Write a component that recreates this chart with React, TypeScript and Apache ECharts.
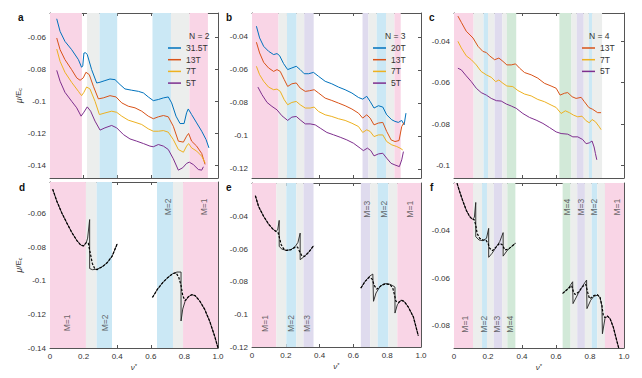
import React, { useEffect, useRef } from "react";
import * as echarts from "echarts";

type Pt = [number, number];

const X_TICKS = [0, 0.2, 0.4, 0.6, 0.8, 1.0];

// ---------- panel a (N = 2) ----------
const aNames = ["31.5T", "13T", "7T", "5T"];
const a31: Pt[] = [[0.04,-0.0486],[0.06,-0.0565],[0.089,-0.0627],[0.129,-0.0679],[0.169,-0.0741],[0.188,-0.0789],[0.195,-0.078],[0.202,-0.070],[0.212,-0.0698],[0.222,-0.071],[0.248,-0.0804],[0.278,-0.0887],[0.298,-0.0882],[0.327,-0.0872],[0.357,-0.0862],[0.387,-0.0866],[0.417,-0.0897],[0.446,-0.0924],[0.486,-0.0932],[0.526,-0.0939],[0.556,-0.0949],[0.585,-0.0974],[0.615,-0.0997],[0.645,-0.099],[0.675,-0.098],[0.704,-0.0974],[0.724,-0.1011],[0.75,-0.1094],[0.774,-0.114],[0.798,-0.114],[0.813,-0.1073],[0.823,-0.1049],[0.843,-0.1084],[0.873,-0.1136],[0.903,-0.1188],[0.929,-0.124],[0.946,-0.1292]];
const a13: Pt[] = [[0.04,-0.0606],[0.06,-0.0679],[0.089,-0.0741],[0.129,-0.0804],[0.159,-0.0855],[0.179,-0.087],[0.198,-0.0855],[0.214,-0.082],[0.234,-0.0835],[0.258,-0.0907],[0.288,-0.0986],[0.317,-0.098],[0.357,-0.0966],[0.393,-0.0974],[0.427,-0.1011],[0.466,-0.1032],[0.506,-0.1042],[0.546,-0.1063],[0.585,-0.1094],[0.615,-0.111],[0.645,-0.1098],[0.675,-0.109],[0.704,-0.1098],[0.734,-0.1157],[0.764,-0.125],[0.794,-0.1256],[0.813,-0.1219],[0.825,-0.1202],[0.843,-0.125],[0.873,-0.1281],[0.903,-0.1327],[0.923,-0.1395]];
const a7: Pt[] = [[0.04,-0.0675],[0.06,-0.0752],[0.089,-0.082],[0.129,-0.0883],[0.169,-0.0939],[0.188,-0.0966],[0.202,-0.0945],[0.218,-0.0912],[0.238,-0.0924],[0.268,-0.1001],[0.294,-0.1084],[0.327,-0.1074],[0.367,-0.1063],[0.397,-0.107],[0.427,-0.1094],[0.466,-0.1119],[0.506,-0.1132],[0.546,-0.1146],[0.585,-0.1173],[0.615,-0.1188],[0.645,-0.1188],[0.675,-0.1184],[0.704,-0.1194],[0.734,-0.124],[0.764,-0.1302],[0.794,-0.1319],[0.813,-0.1281],[0.825,-0.1265],[0.843,-0.1292],[0.873,-0.1312],[0.903,-0.1344],[0.923,-0.1385]];
const a5: Pt[] = [[0.04,-0.0808],[0.06,-0.0876],[0.089,-0.0945],[0.129,-0.1001],[0.159,-0.1042],[0.185,-0.1094],[0.202,-0.1069],[0.222,-0.1036],[0.242,-0.1063],[0.268,-0.1125],[0.298,-0.1181],[0.327,-0.1167],[0.367,-0.1152],[0.397,-0.1167],[0.437,-0.1209],[0.476,-0.1236],[0.516,-0.125],[0.556,-0.1265],[0.595,-0.1281],[0.615,-0.1285],[0.645,-0.1271],[0.675,-0.1281],[0.704,-0.1302],[0.734,-0.136],[0.764,-0.1431],[0.79,-0.1416],[0.813,-0.1389],[0.829,-0.1381],[0.853,-0.1396],[0.883,-0.1427],[0.903,-0.1431],[0.913,-0.141]];

// ---------- panel b (N = 3) ----------
const bNames = ["20T", "13T", "7T", "5T"];
const b20: Pt[] = [[0.026,-0.0335],[0.045,-0.0406],[0.069,-0.0457],[0.098,-0.0487],[0.128,-0.0507],[0.148,-0.0501],[0.163,-0.0513],[0.187,-0.0562],[0.211,-0.0598],[0.236,-0.0588],[0.262,-0.0578],[0.285,-0.0598],[0.309,-0.0623],[0.335,-0.0623],[0.364,-0.0615],[0.394,-0.0639],[0.433,-0.0669],[0.472,-0.0684],[0.512,-0.0704],[0.551,-0.072],[0.591,-0.074],[0.63,-0.0767],[0.655,-0.0777],[0.679,-0.076],[0.699,-0.0791],[0.722,-0.0831],[0.748,-0.0817],[0.774,-0.0825],[0.797,-0.0872],[0.827,-0.0902],[0.846,-0.0912],[0.866,-0.0918],[0.886,-0.0906],[0.9,-0.0933],[0.911,-0.0862]];
const b13: Pt[] = [[0.026,-0.0432],[0.045,-0.0497],[0.069,-0.0554],[0.098,-0.0588],[0.128,-0.0609],[0.148,-0.0598],[0.167,-0.0609],[0.191,-0.0659],[0.211,-0.07],[0.236,-0.0684],[0.262,-0.0679],[0.285,-0.071],[0.315,-0.073],[0.341,-0.0726],[0.368,-0.072],[0.394,-0.074],[0.433,-0.0771],[0.472,-0.0785],[0.512,-0.0801],[0.551,-0.0817],[0.591,-0.0837],[0.63,-0.0862],[0.655,-0.0892],[0.679,-0.0872],[0.699,-0.0892],[0.722,-0.0933],[0.748,-0.0922],[0.774,-0.0918],[0.797,-0.0973],[0.823,-0.1024],[0.846,-0.1034],[0.87,-0.1028],[0.886,-0.0943],[0.9,-0.0918]];
const b7: Pt[] = [[0.026,-0.0578],[0.045,-0.0629],[0.069,-0.0669],[0.098,-0.0704],[0.128,-0.072],[0.148,-0.0716],[0.167,-0.073],[0.191,-0.0781],[0.211,-0.0811],[0.236,-0.0797],[0.262,-0.0791],[0.285,-0.0811],[0.315,-0.0831],[0.344,-0.0831],[0.368,-0.0825],[0.394,-0.0852],[0.433,-0.0872],[0.472,-0.0882],[0.512,-0.0896],[0.551,-0.0906],[0.591,-0.0923],[0.63,-0.0943],[0.655,-0.0979],[0.679,-0.0963],[0.699,-0.0973],[0.722,-0.1004],[0.748,-0.0994],[0.774,-0.0994],[0.797,-0.1034],[0.827,-0.1054],[0.856,-0.1064],[0.876,-0.1074],[0.892,-0.1085]];
const b5: Pt[] = [[0.035,-0.0704],[0.059,-0.075],[0.089,-0.0797],[0.118,-0.0821],[0.148,-0.0842],[0.177,-0.0878],[0.211,-0.0906],[0.236,-0.0886],[0.262,-0.0882],[0.289,-0.0906],[0.315,-0.0927],[0.344,-0.0927],[0.374,-0.0933],[0.404,-0.0953],[0.443,-0.0979],[0.482,-0.0993],[0.522,-0.1008],[0.561,-0.1024],[0.6,-0.1044],[0.64,-0.1074],[0.659,-0.1089],[0.683,-0.1074],[0.703,-0.1089],[0.722,-0.1121],[0.748,-0.1109],[0.774,-0.1105],[0.797,-0.1135],[0.823,-0.1166],[0.846,-0.1176],[0.872,-0.1186],[0.886,-0.1145],[0.896,-0.1095]];

// ---------- panel c (N = 4) ----------
const cNames = ["13T", "7T", "5T"];
const c13: Pt[] = [[0.023,-0.0278],[0.043,-0.0308],[0.072,-0.0351],[0.112,-0.0384],[0.141,-0.0424],[0.17,-0.0449],[0.19,-0.0454],[0.209,-0.047],[0.239,-0.0489],[0.264,-0.0481],[0.288,-0.0497],[0.311,-0.0514],[0.337,-0.0514],[0.362,-0.0509],[0.386,-0.053],[0.415,-0.0551],[0.454,-0.0562],[0.493,-0.0578],[0.532,-0.0603],[0.571,-0.0616],[0.601,-0.0627],[0.624,-0.066],[0.65,-0.0651],[0.669,-0.0648],[0.695,-0.0668],[0.718,-0.0676],[0.748,-0.0671],[0.767,-0.0692],[0.793,-0.072],[0.816,-0.0729],[0.845,-0.0745],[0.865,-0.0745]];
const c7: Pt[] = [[0.023,-0.04],[0.043,-0.0432],[0.072,-0.047],[0.102,-0.0489],[0.131,-0.0514],[0.16,-0.0546],[0.19,-0.0562],[0.219,-0.0574],[0.245,-0.0595],[0.264,-0.0587],[0.288,-0.0603],[0.311,-0.0616],[0.346,-0.0619],[0.376,-0.0638],[0.415,-0.0655],[0.454,-0.0664],[0.493,-0.0681],[0.532,-0.0692],[0.571,-0.0708],[0.601,-0.072],[0.63,-0.0749],[0.655,-0.0736],[0.679,-0.0745],[0.703,-0.0757],[0.728,-0.0765],[0.753,-0.0762],[0.777,-0.0784],[0.796,-0.0794],[0.812,-0.0778],[0.832,-0.0789],[0.855,-0.0814],[0.865,-0.0827]];
const c5: Pt[] = [[0.023,-0.053],[0.043,-0.0538],[0.072,-0.0567],[0.102,-0.0595],[0.131,-0.0627],[0.16,-0.0648],[0.19,-0.066],[0.219,-0.0676],[0.249,-0.0687],[0.278,-0.0689],[0.307,-0.0703],[0.337,-0.0713],[0.366,-0.0724],[0.405,-0.0749],[0.444,-0.0768],[0.483,-0.0781],[0.523,-0.0797],[0.562,-0.0817],[0.601,-0.0838],[0.63,-0.0846],[0.669,-0.0849],[0.699,-0.0862],[0.728,-0.0862],[0.757,-0.0875],[0.777,-0.0895],[0.796,-0.0891],[0.812,-0.0882],[0.824,-0.0911],[0.832,-0.0943],[0.84,-0.0973]];

// ---------- panel d (theory, N = 2) ----------
const dSolidL: Pt[] = [[0.016,-0.0453],[0.04,-0.0523],[0.07,-0.0594],[0.10,-0.0654],[0.13,-0.0711],[0.16,-0.0759],[0.184,-0.0787],[0.20,-0.0791],[0.216,-0.0771],[0.224,-0.0745],[0.236,-0.0634],[0.236,-0.0926],[0.252,-0.0933],[0.28,-0.093],[0.31,-0.0916],[0.34,-0.0892],[0.37,-0.0852],[0.40,-0.0779]];
const dDashL: Pt[] = [[0.016,-0.0453],[0.04,-0.0523],[0.07,-0.0594],[0.10,-0.0654],[0.13,-0.0711],[0.16,-0.0759],[0.184,-0.0787],[0.20,-0.0791],[0.216,-0.0771],[0.228,-0.0775],[0.24,-0.0836],[0.252,-0.0896],[0.266,-0.0926],[0.28,-0.0933],[0.31,-0.0916],[0.34,-0.0892],[0.37,-0.0852],[0.40,-0.0779]];
const dSolidR: Pt[] = [[0.61,-0.1098],[0.64,-0.1049],[0.67,-0.1011],[0.70,-0.0981],[0.73,-0.0957],[0.756,-0.0947],[0.78,-0.0947],[0.78,-0.1239],[0.79,-0.1168],[0.804,-0.1122],[0.824,-0.1094],[0.844,-0.1082],[0.864,-0.1088],[0.89,-0.1118],[0.92,-0.1168],[0.95,-0.1239],[0.98,-0.1329],[1.0,-0.14]];
const dDashR: Pt[] = [[0.61,-0.1098],[0.64,-0.1049],[0.67,-0.1011],[0.70,-0.0981],[0.73,-0.0957],[0.75,-0.0951],[0.766,-0.0977],[0.78,-0.1027],[0.79,-0.1088],[0.804,-0.1118],[0.824,-0.1094],[0.844,-0.1082],[0.864,-0.1088],[0.89,-0.1118],[0.92,-0.1168],[0.95,-0.1239],[0.98,-0.1329],[1.0,-0.14]];

// ---------- panel e (theory, N = 3) ----------
const eSolidL: Pt[] = [[0.02,-0.0273],[0.039,-0.0339],[0.069,-0.04],[0.098,-0.0447],[0.124,-0.0478],[0.142,-0.0492],[0.152,-0.0482],[0.161,-0.0424],[0.161,-0.0584],[0.177,-0.06],[0.203,-0.0608],[0.23,-0.0604],[0.256,-0.0584],[0.272,-0.0559],[0.285,-0.0502],[0.285,-0.0665],[0.305,-0.0649],[0.335,-0.062],[0.364,-0.058]];
const eDashL: Pt[] = [[0.02,-0.0273],[0.039,-0.0339],[0.069,-0.04],[0.098,-0.0447],[0.124,-0.0478],[0.142,-0.0492],[0.154,-0.0498],[0.163,-0.0533],[0.173,-0.0573],[0.187,-0.0598],[0.203,-0.0608],[0.23,-0.0604],[0.256,-0.0588],[0.27,-0.0588],[0.281,-0.0614],[0.295,-0.0641],[0.311,-0.0645],[0.335,-0.062],[0.364,-0.058]];
const eSolidR: Pt[] = [[0.644,-0.0839],[0.669,-0.0798],[0.695,-0.0767],[0.715,-0.0753],[0.719,-0.0753],[0.719,-0.092],[0.734,-0.0869],[0.758,-0.0829],[0.781,-0.0812],[0.807,-0.0812],[0.833,-0.0824],[0.846,-0.0833],[0.846,-0.0992],[0.86,-0.0941],[0.88,-0.0914],[0.9,-0.092],[0.925,-0.0955],[0.955,-0.1016],[0.984,-0.1131]];
const eDashR: Pt[] = [[0.644,-0.0839],[0.669,-0.0798],[0.695,-0.0771],[0.711,-0.0784],[0.724,-0.0824],[0.738,-0.0845],[0.748,-0.0839],[0.768,-0.082],[0.793,-0.0814],[0.817,-0.0818],[0.833,-0.0839],[0.843,-0.088],[0.852,-0.092],[0.866,-0.0927],[0.886,-0.0914],[0.9,-0.092],[0.925,-0.0955],[0.955,-0.1016],[0.984,-0.1131]];

// ---------- panel f (theory, N = 4) ----------
const fSolidL: Pt[] = [[0.018,-0.0199],[0.033,-0.0234],[0.053,-0.0276],[0.073,-0.0314],[0.092,-0.0339],[0.108,-0.0351],[0.12,-0.0342],[0.128,-0.028],[0.128,-0.0424],[0.147,-0.0438],[0.171,-0.0441],[0.191,-0.0431],[0.204,-0.0389],[0.204,-0.0511],[0.224,-0.0494],[0.246,-0.047],[0.269,-0.0445],[0.289,-0.0407],[0.289,-0.0506],[0.312,-0.0483],[0.338,-0.0466],[0.361,-0.0452]];
const fDashL: Pt[] = [[0.018,-0.0199],[0.033,-0.0234],[0.053,-0.0276],[0.073,-0.0314],[0.092,-0.0339],[0.108,-0.0351],[0.118,-0.0351],[0.128,-0.0375],[0.136,-0.041],[0.151,-0.0431],[0.171,-0.0438],[0.187,-0.0438],[0.2,-0.0452],[0.21,-0.0473],[0.226,-0.0483],[0.25,-0.0466],[0.269,-0.0452],[0.285,-0.0459],[0.299,-0.048],[0.318,-0.0477],[0.338,-0.0466],[0.361,-0.0452]];
const fSolidR: Pt[] = [[0.639,-0.0663],[0.672,-0.0642],[0.698,-0.0614],[0.7,-0.0706],[0.731,-0.0663],[0.76,-0.0628],[0.78,-0.0607],[0.782,-0.0727],[0.804,-0.0692],[0.823,-0.0675],[0.843,-0.0671],[0.859,-0.068],[0.87,-0.0715],[0.873,-0.0833],[0.888,-0.0769],[0.902,-0.0759],[0.918,-0.0769],[0.937,-0.0805],[0.957,-0.0861],[0.97,-0.0896]];
const fDashR: Pt[] = [[0.639,-0.0663],[0.672,-0.0643],[0.692,-0.063],[0.702,-0.0655],[0.712,-0.0668],[0.731,-0.0658],[0.76,-0.0632],[0.775,-0.0625],[0.787,-0.066],[0.797,-0.0685],[0.81,-0.068],[0.823,-0.0672],[0.843,-0.0668],[0.859,-0.068],[0.87,-0.0715],[0.878,-0.0755],[0.888,-0.0765],[0.902,-0.0758],[0.918,-0.0769],[0.937,-0.0805],[0.957,-0.0861],[0.97,-0.0896]];

// ---------- shaded regions: [from, to, kind] ----------
type Band = [number, number, string];
const bandsA: Band[] = [[0,0.19,"M1"],[0.22,0.295,"G"],[0.295,0.40,"M2"],[0.61,0.72,"M2"],[0.72,0.83,"G"],[0.83,0.94,"M1"]];
const bandsD: Band[] = [[0,0.214,"M1"],[0.214,0.278,"G"],[0.278,0.369,"M2"],[0.637,0.732,"M2"],[0.732,0.792,"G"],[0.792,1.0,"M1"]];
const bandsB: Band[] = [[0,0.157,"M1"],[0.157,0.207,"G"],[0.207,0.264,"M2"],[0.264,0.309,"G"],[0.309,0.365,"M3"],[0.654,0.689,"M3"],[0.689,0.738,"G"],[0.738,0.793,"M2"],[0.793,0.843,"G"],[0.843,0.88,"M1"]];
const bandsE: Band[] = [[0,0.144,"M1"],[0.144,0.203,"G"],[0.203,0.262,"M2"],[0.262,0.305,"G"],[0.305,0.364,"M3"],[0.644,0.699,"M3"],[0.699,0.744,"G"],[0.744,0.807,"M2"],[0.807,0.86,"G"],[0.86,1.0,"M1"]];
const bandsC: Band[] = [[0,0.115,"M1"],[0.115,0.174,"G"],[0.174,0.2,"M2"],[0.2,0.239,"G"],[0.239,0.284,"M3"],[0.284,0.311,"G"],[0.311,0.366,"M4"],[0.62,0.691,"M4"],[0.691,0.722,"G"],[0.722,0.763,"M3"],[0.763,0.793,"G"],[0.793,0.812,"M2"],[0.812,0.871,"G"]];
const bandsF: Band[] = [[0,0.112,"M1"],[0.112,0.165,"G"],[0.165,0.194,"M2"],[0.194,0.234,"G"],[0.234,0.283,"M3"],[0.283,0.314,"G"],[0.314,0.361,"M4"],[0.639,0.686,"M4"],[0.686,0.725,"G"],[0.725,0.77,"M3"],[0.77,0.81,"G"],[0.81,0.843,"M2"],[0.843,0.888,"G"],[0.888,1.0,"M1"]];

// ---------- region labels: [x, y, text] ----------
type Lab = [number, number, string];
const labelsD: Lab[] = [[0.099,-0.125,"M=1"],[0.327,-0.125,"M=2"],[0.704,-0.0558,"M=2"],[0.917,-0.0558,"M=1"]];
const labelsE: Lab[] = [[0.079,-0.1056,"M=1"],[0.232,-0.1056,"M=2"],[0.325,-0.1056,"M=3"],[0.679,-0.0356,"M=3"],[0.781,-0.0356,"M=2"],[0.935,-0.0356,"M=1"]];
const labelsF: Lab[] = [[0.063,-0.0793,"M=1"],[0.175,-0.0793,"M=2"],[0.253,-0.0793,"M=3"],[0.328,-0.0793,"M=4"],[0.662,-0.03,"M=4"],[0.747,-0.03,"M=3"],[0.823,-0.03,"M=2"],[0.957,-0.03,"M=1"]];

const yTicksA = [-0.14, -0.12, -0.1, -0.08, -0.06];
const yTicksB = [-0.12, -0.1, -0.08, -0.06, -0.04];
const yTicksC = [-0.1, -0.08, -0.06, -0.04];
const yTicksF = [-0.08, -0.06, -0.04];

const FONT = "Liberation Sans, Arial, sans-serif";
const AX = "#555555";
const TXT = "#333333";
const BAND_COLORS: Record<string, string> = {
  M1: "#f9d5e6",
  M2: "#cbe8f5",
  M3: "#dfdbee",
  M4: "#d2e9d8",
  G: "#eceeed",
};
const C_BLUE = "#0072BD";
const C_RED = "#D95319";
const C_ORANGE = "#EDB120";
const C_PURPLE = "#7E2F8E";

interface LineDef { name: string; data: Pt[]; color: string; dashed?: boolean; width?: number }
interface PanelDef {
  rect: { left: number; top: number; width: number; height: number };
  yMin: number; yMax: number; yTicks: number[];
  bottomRow: boolean; yName: boolean;
  bands: Band[]; lines: LineDef[]; labels: Lab[];
}

const panels: PanelDef[] = [
  { rect: { left: 50, top: 13, width: 168, height: 165 }, yMin: -0.148, yMax: -0.045, yTicks: yTicksA, bottomRow: false, yName: true, bands: bandsA,
    lines: [
      { name: aNames[0], data: a31, color: C_BLUE },
      { name: aNames[1], data: a13, color: C_RED },
      { name: aNames[2], data: a7, color: C_ORANGE },
      { name: aNames[3], data: a5, color: C_PURPLE },
    ], labels: [] },
  { rect: { left: 252, top: 13, width: 169, height: 165 }, yMin: -0.1255, yMax: -0.0255, yTicks: yTicksB, bottomRow: false, yName: false, bands: bandsB,
    lines: [
      { name: bNames[0], data: b20, color: C_BLUE },
      { name: bNames[1], data: b13, color: C_RED },
      { name: bNames[2], data: b7, color: C_ORANGE },
      { name: bNames[3], data: b5, color: C_PURPLE },
    ], labels: [] },
  { rect: { left: 454, top: 13, width: 170, height: 165 }, yMin: -0.1061, yMax: -0.0263, yTicks: yTicksC, bottomRow: false, yName: false, bands: bandsC,
    lines: [
      { name: cNames[0], data: c13, color: C_RED },
      { name: cNames[1], data: c7, color: C_ORANGE },
      { name: cNames[2], data: c5, color: C_PURPLE },
    ], labels: [] },
  { rect: { left: 50, top: 182, width: 168, height: 166 }, yMin: -0.14, yMax: -0.041, yTicks: yTicksA, bottomRow: true, yName: true, bands: bandsD,
    lines: [
      { name: "d-thy-L", data: dSolidL, color: "#222", width: 0.9 },
      { name: "d-thy-R", data: dSolidR, color: "#222", width: 0.9 },
      { name: "d-exp-L", data: dDashL, color: "#000", dashed: true, width: 1.2 },
      { name: "d-exp-R", data: dDashR, color: "#000", dashed: true, width: 1.2 },
    ], labels: labelsD },
  { rect: { left: 252, top: 183, width: 169, height: 164 }, yMin: -0.12, yMax: -0.0195, yTicks: yTicksB, bottomRow: true, yName: false, bands: bandsE,
    lines: [
      { name: "e-thy-L", data: eSolidL, color: "#222", width: 0.9 },
      { name: "e-thy-R", data: eSolidR, color: "#222", width: 0.9 },
      { name: "e-exp-L", data: eDashL, color: "#000", dashed: true, width: 1.2 },
      { name: "e-exp-R", data: eDashR, color: "#000", dashed: true, width: 1.2 },
    ], labels: labelsE },
  { rect: { left: 454, top: 183, width: 170, height: 165 }, yMin: -0.0893, yMax: -0.0198, yTicks: yTicksF, bottomRow: true, yName: false, bands: bandsF,
    lines: [
      { name: "f-thy-L", data: fSolidL, color: "#222", width: 0.9 },
      { name: "f-thy-R", data: fSolidR, color: "#222", width: 0.9 },
      { name: "f-exp-L", data: fDashL, color: "#000", dashed: true, width: 1.2 },
      { name: "f-exp-R", data: fDashR, color: "#000", dashed: true, width: 1.2 },
    ], labels: labelsF },
];

const fmtY = (v: number) => String(parseFloat(v.toFixed(3)));
const fmtX = (v: number) => (Math.abs(v) < 1e-9 ? "0" : v.toFixed(1));

function buildOption() {
  const grid: any[] = [];
  const xAxis: any[] = [];
  const yAxis: any[] = [];
  const series: any[] = [];

  panels.forEach((p, i) => {
    grid.push({ ...p.rect, containLabel: false });
    const line = { show: true, onZero: false, lineStyle: { color: AX, width: 1 } };
    const tick = (vals: number[]) => ({ show: true, inside: true, length: 3, customValues: vals, lineStyle: { color: AX, width: 1 } });
    xAxis.push({
      gridIndex: i, type: "value", min: 0, max: 1, position: "bottom",
      axisLine: line, axisTick: tick(X_TICKS), splitLine: { show: false },
      axisLabel: { show: p.bottomRow, customValues: X_TICKS, formatter: fmtX, fontSize: 8, color: TXT, fontFamily: FONT, margin: 4 },
      name: p.bottomRow ? "{i|ν}{s|*}" : "",
      nameLocation: "middle", nameGap: 15,
      nameTextStyle: { fontFamily: FONT, color: TXT, rich: { i: { fontStyle: "italic", fontSize: 8, color: TXT, fontFamily: FONT }, s: { fontSize: 6, color: TXT, verticalAlign: "top", fontFamily: FONT } } },
    });
    xAxis.push({
      gridIndex: i, type: "value", min: 0, max: 1, position: "top",
      axisLine: line, axisTick: tick(X_TICKS), splitLine: { show: false }, axisLabel: { show: false },
    });
    yAxis.push({
      gridIndex: i, type: "value", min: p.yMin, max: p.yMax, position: "left",
      axisLine: line, axisTick: tick(p.yTicks), splitLine: { show: false },
      axisLabel: { show: true, customValues: p.yTicks, formatter: fmtY, fontSize: 8, color: TXT, fontFamily: FONT, margin: 4 },
      name: p.yName ? "{i|μ}/E{s|c}" : "",
      nameLocation: "middle", nameGap: 27, nameRotate: 90,
      nameTextStyle: { fontFamily: FONT, color: TXT, fontSize: 8, rich: { i: { fontStyle: "italic", fontSize: 8.5, color: TXT, fontFamily: FONT }, s: { fontSize: 5.5, color: TXT, verticalAlign: "bottom", fontFamily: FONT } } },
    });
    yAxis.push({
      gridIndex: i, type: "value", min: p.yMin, max: p.yMax, position: "right",
      axisLine: line, axisTick: tick(p.yTicks), splitLine: { show: false }, axisLabel: { show: false },
    });

    series.push({
      type: "line", name: "bands" + i, xAxisIndex: 2 * i, yAxisIndex: 2 * i, data: [], z: 1, silent: true,
      markArea: {
        silent: true,
        data: p.bands.map((b) => [
          { xAxis: b[0], itemStyle: { color: BAND_COLORS[b[2]], opacity: 1 } },
          { xAxis: b[1] },
        ]),
      },
    });

    p.lines.forEach((l) => {
      series.push({
        type: "line", name: l.name, xAxisIndex: 2 * i, yAxisIndex: 2 * i,
        data: l.data, showSymbol: false, symbol: "none", z: 3, silent: true,
        color: l.color,
        lineStyle: { color: l.color, width: l.width ?? 1, type: l.dashed ? [2.5, 1.5] : "solid" },
      });
    });

    if (p.labels.length) {
      series.push({
        type: "scatter", name: "labels" + i, xAxisIndex: 2 * i, yAxisIndex: 2 * i, z: 4, silent: true,
        symbolSize: 0,
        data: p.labels.map((l) => ({ value: [l[0], l[1]], name: l[2] })),
        label: { show: true, position: "inside", rotate: 90, formatter: (d: any) => d.name, fontSize: 8.5, color: "#444", fontFamily: FONT },
      });
    }
  });

  const legendBase = {
    orient: "vertical", icon: "rect", itemWidth: 13, itemHeight: 1.5, itemGap: 1.7, selectedMode: false,
    textStyle: { fontSize: 8.5, color: TXT, fontFamily: FONT, lineHeight: 10, padding: [0, 0, 0, 0] },
  };
  const legend = [
    { ...legendBase, data: aNames, left: 163, top: 38 },
    { ...legendBase, data: bNames, left: 368, top: 38 },
    { ...legendBase, data: cNames, left: 577, top: 38 },
  ];

  const titleStyle = { fontSize: 10, fontWeight: "bold", color: "#111", fontFamily: FONT };
  const nStyle = { fontSize: 8.5, fontWeight: "normal", color: TXT, fontFamily: FONT };
  const title = [
    { text: "a", left: 13, top: 7, textStyle: titleStyle },
    { text: "b", left: 221, top: 7, textStyle: titleStyle },
    { text: "c", left: 424, top: 7, textStyle: titleStyle },
    { text: "d", left: 14, top: 177, textStyle: titleStyle },
    { text: "e", left: 221, top: 177, textStyle: titleStyle },
    { text: "f", left: 425, top: 177, textStyle: titleStyle },
    { text: "N = 2", left: 184, top: 26, textStyle: nStyle },
    { text: "N = 3", left: 380, top: 26, textStyle: nStyle },
    { text: "N = 4", left: 584, top: 26, textStyle: nStyle },
  ];

  return { animation: false, backgroundColor: "#ffffff", grid, xAxis, yAxis, series, legend, title };
}

export default function App() {
  const ref = useRef<HTMLDivElement>(null);
  useEffect(() => {
    if (!ref.current) return;
    const chart = echarts.init(ref.current, undefined, { renderer: "svg" });
    chart.setOption(buildOption() as any);
    return () => chart.dispose();
  }, []);
  return (
    <div
      ref={ref}
      style={{ position: "absolute", left: 0, top: 0, width: 642, height: 378, background: "#fff" }}
    />
  );
}
